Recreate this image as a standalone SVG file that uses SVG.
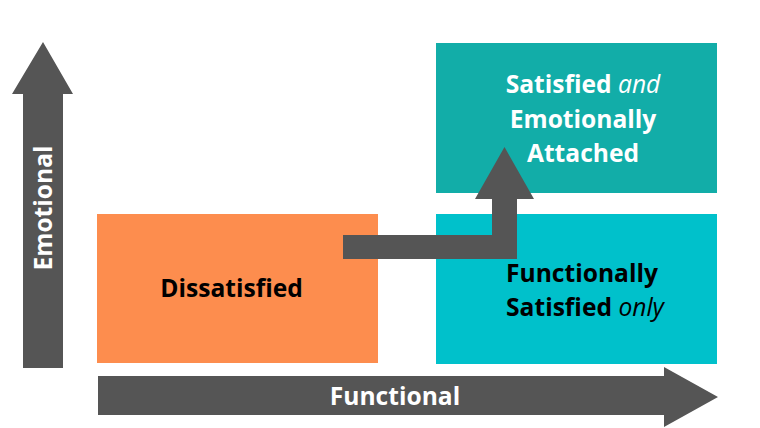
<svg xmlns="http://www.w3.org/2000/svg" width="760" height="428" viewBox="0 0 760 428">
<style>
.lbl{font-family:"Open Sans","Liberation Sans",sans-serif;font-weight:700;font-size:24.6px;text-anchor:middle}
.w{fill:#ffffff}
.k{fill:#000000}
.it{font-style:italic;font-weight:400}
.arr{fill:#555555}
</style>
<rect width="760" height="428" fill="#ffffff"/>
<g id="connectors">
<g id="emotional-axis">
<polygon class="arr" points="23,368 63,368 63,94 73,94 43,42 12,94 23,94"/>
<text class="lbl w" transform="translate(52,208) rotate(-90)">Emotional</text>
</g>
<g id="functional-axis">
<polygon class="arr" points="98,376 664,376 664,367 718,397 664,427 664,415 98,415"/>
<text class="lbl w" x="395" y="405">Functional</text>
</g>
</g>
<g id="dissatisfied">
<rect x="97" y="214" width="281" height="149" fill="#FD8D4E"/>
<text class="lbl k" x="231.5" y="297">Dissatisfied</text>
</g>
<g id="attached">
<rect x="436" y="43" width="281" height="150" fill="#12ADA8"/>
<text class="lbl w" x="583" y="93">Satisfied <tspan class="it">and</tspan></text>
<text class="lbl w" x="583" y="128">Emotionally</text>
<text class="lbl w" x="583" y="162">Attached</text>
</g>
<g id="functional-only">
<rect x="436" y="214" width="281" height="150" fill="#00C1CB"/>
<text class="lbl k" x="582" y="282">Functionally</text>
<text class="lbl k" x="585" y="316">Satisfied <tspan class="it">only</tspan></text>
</g>
<g id="bent-arrow">
<polygon class="arr" points="343,235 492,235 492,199 475,199 504.5,147 534,199 517,199 517,259 343,259"/>
</g>
</svg>
